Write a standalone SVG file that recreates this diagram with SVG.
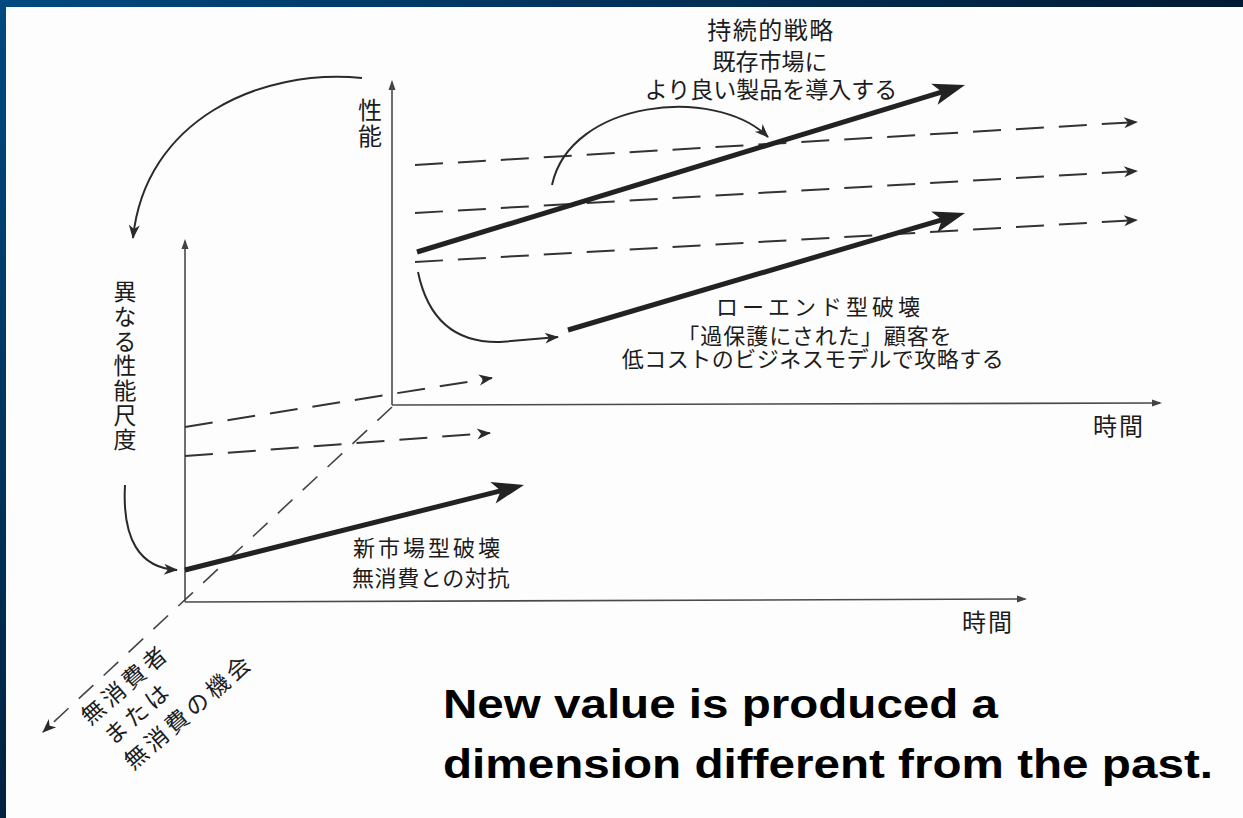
<svg xmlns="http://www.w3.org/2000/svg" width="1243" height="818" viewBox="0 0 1243 818">
<defs>
<linearGradient id="gTop" x1="0" y1="0" x2="1" y2="0"><stop offset="0" stop-color="#024a80"/><stop offset="1" stop-color="#001a33"/></linearGradient>
<linearGradient id="gLeft" x1="0" y1="0" x2="0" y2="1"><stop offset="0" stop-color="#024a80"/><stop offset="1" stop-color="#00223f"/></linearGradient>
<marker id="big" markerUnits="userSpaceOnUse" viewBox="-25 -13 37 26" markerWidth="37" markerHeight="26" refX="0" refY="0" orient="auto"><path d="M10,0 L-22,-11 L-14,0 L-22,11 Z" fill="#222"/></marker>
<marker id="sm" markerUnits="userSpaceOnUse" viewBox="-15 -7 17 14" markerWidth="17" markerHeight="14" refX="0" refY="0" orient="auto"><path d="M1,0 L-13,-5.5 L-9,0 L-13,5.5 Z" fill="#2a2a2a"/></marker>
<marker id="ax" markerUnits="userSpaceOnUse" viewBox="-10 -5 13 10" markerWidth="13" markerHeight="10" refX="0" refY="0" orient="auto"><path d="M2,0 L-8,-3.5 L-8,3.5 Z" fill="#444"/></marker>
<style>
.axis{stroke:#4a4a4a;stroke-width:1.6;fill:none}
.dash{stroke:#333;stroke-width:2;fill:none;stroke-dasharray:28 15}
.depth{stroke:#444;stroke-width:1.6;fill:none;stroke-dasharray:20 14}
.thick{stroke:#222;stroke-width:5;fill:none}
.curve{stroke:#2a2a2a;stroke-width:2;fill:none}
.jp{font-family:"Noto Sans CJK JP",sans-serif;fill:#1c1c1c}
.vert{writing-mode:vertical-rl;text-orientation:upright}
.en{font-family:"Liberation Sans",Arial,sans-serif;font-weight:bold;fill:#000}
</style>
</defs>
<rect x="0" y="0" width="1243" height="818" fill="#fdfdfd"/>
<rect x="0" y="0" width="1243" height="7" fill="url(#gTop)"/>
<rect x="0" y="0" width="6" height="818" fill="url(#gLeft)"/>

<g id="connectors">
  <path class="axis" d="M392,405 L392,82" marker-end="url(#ax)"/>
  <path class="axis" d="M392,405 L1160,403" marker-end="url(#ax)"/>
  <path class="axis" d="M185,602 L185,241" marker-end="url(#ax)"/>
  <path class="axis" d="M185,602 L1025,599" marker-end="url(#ax)"/>
  <path class="depth" d="M392,407 L43,732" marker-end="url(#sm)"/>
  <path class="dash" d="M415,165 L1137,122" marker-end="url(#sm)"/>
  <path class="dash" d="M415,213 L1137,171" marker-end="url(#sm)"/>
  <path class="dash" d="M415,262 L1137,220" marker-end="url(#sm)"/>
  <path class="dash" d="M185,427 L492,378" marker-end="url(#sm)"/>
  <path class="dash" d="M185,456 L490,433" marker-end="url(#sm)"/>
  <path class="thick" d="M417,252 L955.4,87.9" marker-end="url(#big)"/>
  <path class="thick" d="M568,330 L955.4,215.8" marker-end="url(#big)"/>
  <path class="thick" d="M185,570 L514.3,487.4" marker-end="url(#big)"/>
  <path class="curve" d="M362,78 C260,68 145,120 133,238" marker-end="url(#sm)"/>
  <path class="curve" d="M552,185 C570,100 715,85 768,137" marker-end="url(#sm)"/>
  <path class="curve" d="M418,272 C428,320 455,343 500,342 L558,337" marker-end="url(#sm)"/>
  <path class="curve" d="M125,485 C122,540 140,568 177,570" marker-end="url(#sm)"/>
</g>

<g id="label-performance">
  <text class="jp vert" font-size="24" letter-spacing="2" x="370" y="98">性能</text>
</g>
<g id="label-different-measure">
  <text class="jp vert" font-size="23" letter-spacing="1.7" x="125" y="280">異なる性能尺度</text>
</g>
<g id="label-sustaining">
  <text class="jp" text-anchor="middle"><tspan font-size="24" letter-spacing="1.5" x="771" y="39">持続的戦略</tspan><tspan font-size="23" x="770" y="70">既存市場に</tspan><tspan font-size="23" x="771" y="98">より良い製品を導入する</tspan></text>
</g>
<g id="label-lowend">
  <text class="jp" font-size="22" text-anchor="middle"><tspan x="820" y="315" letter-spacing="4">ローエンド型破壊</tspan><tspan x="815" y="344" letter-spacing="1">「過保護にされた」顧客を</tspan><tspan x="813" y="367" letter-spacing="0.5">低コストのビジネスモデルで攻略する</tspan></text>
</g>
<g id="label-newmarket">
  <text class="jp" font-size="22"><tspan x="353" y="556" letter-spacing="3">新市場型破壊</tspan><tspan x="352" y="586" letter-spacing="0.6">無消費との対抗</tspan></text>
</g>
<g id="label-time-back">
  <text class="jp" font-size="24" x="1093" y="435" letter-spacing="2">時間</text>
</g>
<g id="label-time-front">
  <text class="jp" font-size="24" x="962" y="631" letter-spacing="2">時間</text>
</g>
<g id="label-nonconsumption">
  <text class="jp" font-size="23" letter-spacing="4" transform="translate(90,726) rotate(-41)"><tspan x="0" y="0">無消費者</tspan><tspan x="4" y="30">または</tspan><tspan x="3" y="62">無消費の機会</tspan></text>
</g>
<g id="caption">
  <text class="en" font-size="41"><tspan x="443" y="718" textLength="555" lengthAdjust="spacingAndGlyphs">New value is produced a</tspan><tspan x="443" y="778" textLength="770" lengthAdjust="spacingAndGlyphs">dimension different from the past.</tspan></text>
</g>
</svg>
